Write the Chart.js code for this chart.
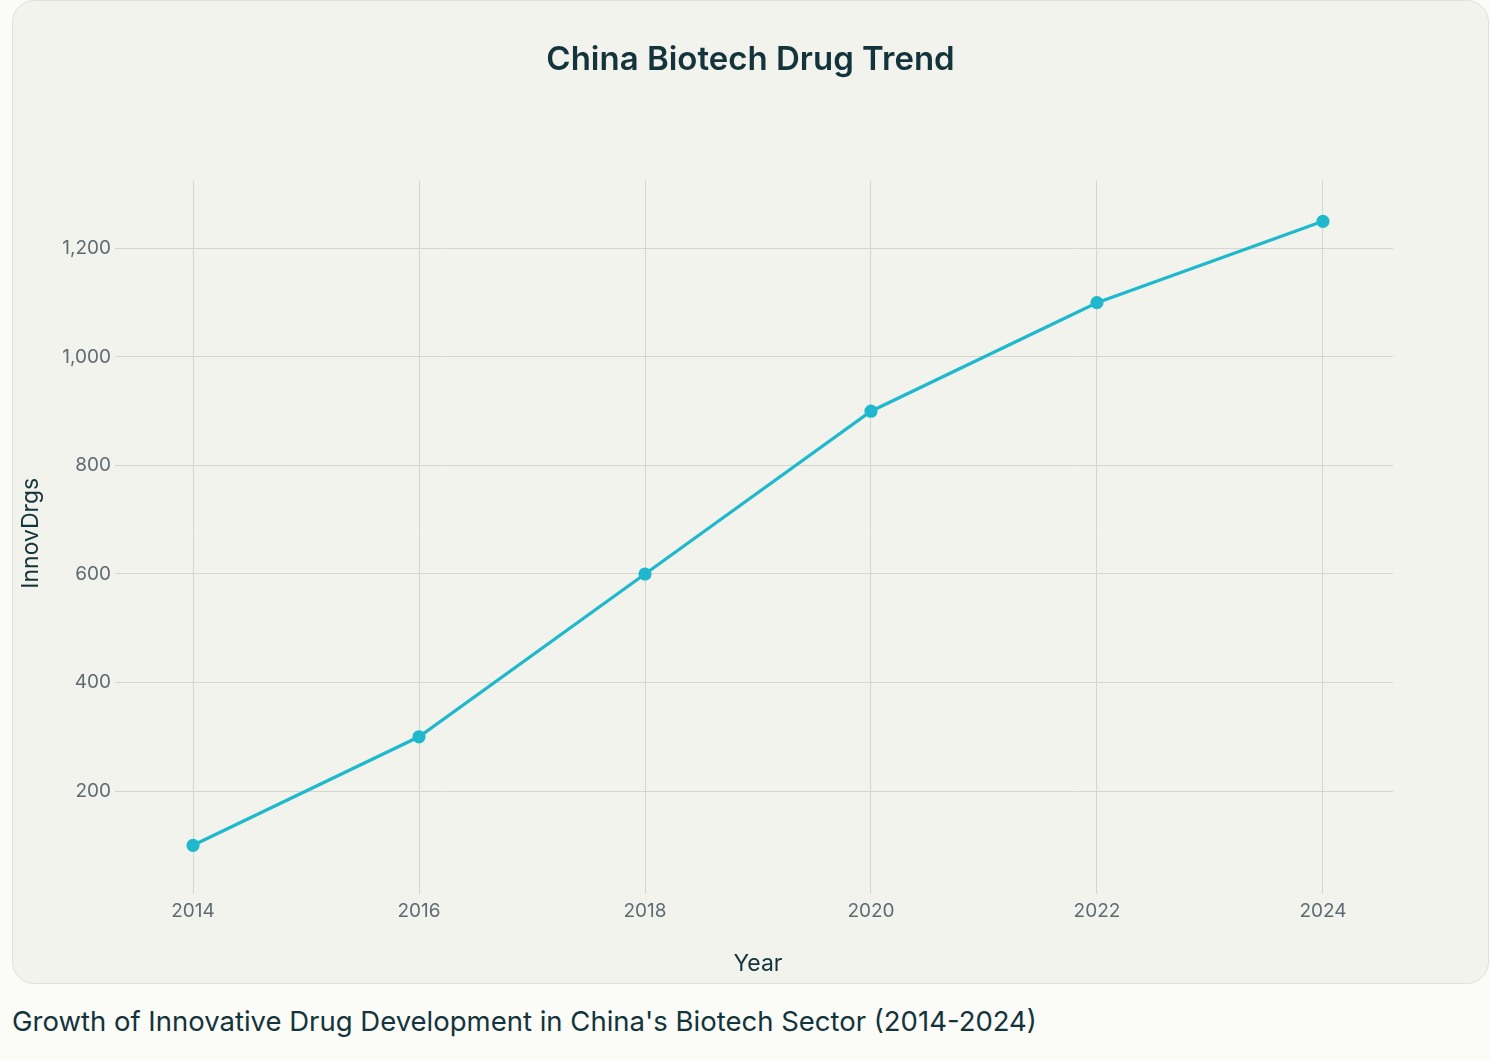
<!DOCTYPE html>
<html>
<head>
<meta charset="utf-8">
<script src="https://cdn.jsdelivr.net/npm/chart.js@4.4.0/dist/chart.umd.min.js"></script>
<style>
  html, body { margin: 0; padding: 0; background: #fbfbf8; }
  body { width: 1490px; height: 1060px; position: relative; font-family: Inter, "Noto Sans", sans-serif; }
  .card {
    position: absolute; left: 12px; top: 0; width: 1475px; height: 982px;
    background: #f3f3ee; border: 1px solid #e2e2dd; border-radius: 22px;
    overflow: hidden;
  }
  .caption {
    position: absolute; left: 12px; top: 1004px;
    font-size: 27.5px; color: #13343b;
  }
</style>
</head>
<body>
<div class="card"><canvas id="main-chart"></canvas></div>
<div class="caption">Growth of Innovative Drug Development in China's Biotech Sector (2014-2024)</div>
<script>
const years = [2014, 2016, 2018, 2020, 2022, 2024];
const innovDrugs = [100, 300, 600, 900, 1100, 1250];
const yTicks = [200, 400, 600, 800, 1000, 1200];

const colors = {
  line: '#1fb8cd',
  title: '#13343b',
  tick: '#5f6b73',
  grid: '#d6d6d1',
};

const ctx = document.getElementById('main-chart');

new Chart(ctx, {
  type: 'line',
  data: {
    datasets: [
      {
        label: 'InnovDrgs',
        data: years.map((y, i) => ({ x: y, y: innovDrugs[i] })),
        borderColor: colors.line,
        backgroundColor: colors.line,
        borderWidth: 3.2,
        pointRadius: 5,
        pointHoverRadius: 5,
        tension: 0,
        fill: false,
      },
    ],
  },
  options: {
    responsive: true,
    maintainAspectRatio: false,
    animation: false,
    layout: { padding: { left: 0, right: 0, top: 0, bottom: 3 } },
    plugins: {
      legend: { display: false },
      tooltip: { enabled: false },
      title: {
        display: true,
        text: 'China Biotech Drug Trend',
        color: colors.title,
        font: { family: 'Inter', size: 33, weight: '600' },
        padding: { top: 39, bottom: 101 },
      },
    },
    scales: {
      x: {
        type: 'linear',
        min: 2013.38,
        max: 2024.62,
        afterBuildTicks: (axis) => { axis.ticks = years.map((v) => ({ value: v })); },
        afterFit: (axis) => { axis.height = 94; },
        ticks: {
          color: colors.tick,
          font: { family: 'Inter', size: 19 },
          padding: 6,
          callback: (v) => String(v),
        },
        grid: { color: colors.grid, tickLength: 8 },
        border: { display: false },
        title: {
          display: true,
          text: 'Year',
          color: colors.title,
          font: { family: 'Inter', size: 23 },
          padding: { top: 0, bottom: 2 },
        },
      },
      y: {
        min: 25,
        max: 1325,
        afterBuildTicks: (axis) => { axis.ticks = yTicks.map((v) => ({ value: v })); },
        afterFit: (axis) => { axis.width = 110; },
        ticks: {
          color: colors.tick,
          font: { family: 'Inter', size: 19 },
          padding: 4,
          callback: (v) => v.toLocaleString('en-US'),
        },
        grid: { color: colors.grid, tickLength: 8 },
        border: { display: false },
        title: {
          display: true,
          text: 'InnovDrgs',
          color: colors.title,
          font: { family: 'Inter', size: 23 },
          padding: { top: 4, bottom: 0 },
        },
      },
      spacer: {
        position: 'right',
        display: true,
        afterFit: (axis) => { axis.width = 95; },
        grid: { display: false },
        ticks: { display: false },
        border: { display: false },
      },
    },
  },
});
</script>
</body>
</html>
